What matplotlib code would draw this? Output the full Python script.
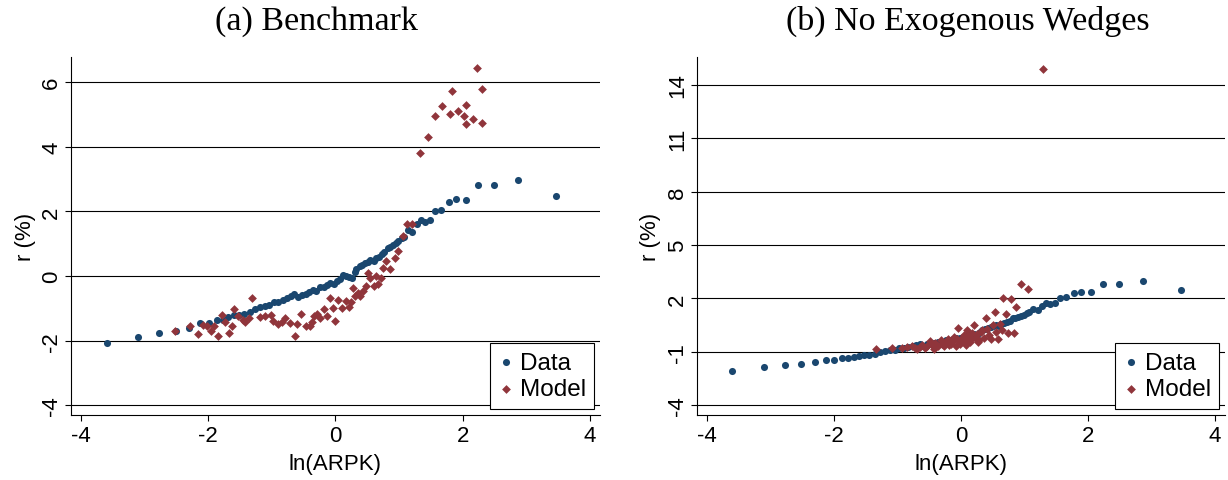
"""Return-on-capital profiles across ln(ARPK): data against model."""

import matplotlib.pyplot as plt

plt.switch_backend("Agg")
plt.rcParams["axes.unicode_minus"] = False

NAVY = "#1a476f"
MAROON = "#90353b"
SANS = ["Liberation Sans", "DejaVu Sans"]
SERIF = ["Liberation Serif", "DejaVu Serif"]

# observed bins: ln(ARPK) and r (%)
data_x = [
    -3.60, -3.10, -2.77, -2.51, -2.30, -2.13, -1.99, -1.87, -1.77, -1.69,
    -1.60, -1.52, -1.44, -1.35, -1.27, -1.19, -1.11, -1.04, -0.97, -0.90,
    -0.83, -0.76, -0.70, -0.65, -0.59, -0.53, -0.47, -0.42, -0.36, -0.30,
    -0.24, -0.18, -0.13, -0.08, -0.02, 0.03, 0.07, 0.12, 0.17, 0.21,
    0.26, 0.30, 0.33, 0.38, 0.42, 0.47, 0.51, 0.55, 0.60, 0.64,
    0.68, 0.73, 0.77, 0.82, 0.86, 0.90, 0.95, 0.99, 1.04, 1.08,
    1.14, 1.21, 1.28, 1.34, 1.41, 1.49, 1.56, 1.66, 1.78, 1.89,
    2.05, 2.24, 2.49, 2.87, 3.47,
]
data_y = [
    -2.08, -1.88, -1.76, -1.70, -1.60, -1.46, -1.44, -1.36, -1.35, -1.27,
    -1.22, -1.20, -1.16, -1.10, -1.03, -0.97, -0.92, -0.88, -0.80, -0.79,
    -0.74, -0.69, -0.62, -0.55, -0.66, -0.58, -0.55, -0.50, -0.43, -0.47,
    -0.34, -0.33, -0.27, -0.21, -0.24, -0.15, -0.10, 0.02, 0.01, -0.02,
    -0.06, 0.12, 0.22, 0.30, 0.34, 0.40, 0.45, 0.51, 0.47, 0.55,
    0.59, 0.67, 0.75, 0.88, 0.90, 0.95, 1.02, 1.08, 1.17, 1.22,
    1.43, 1.35, 1.60, 1.73, 1.66, 1.75, 2.02, 2.05, 2.28, 2.38,
    2.34, 2.82, 2.81, 2.97, 2.47,
]

# benchmark model
bench_x = [
    -2.53, -2.29, -2.17, -2.09, -2.02, -1.95, -1.91, -1.84, -1.78, -1.73,
    -1.67, -1.63, -1.59, -1.53, -1.46, -1.42, -1.36, -1.32, -1.19, -1.11,
    -1.02, -0.98, -0.91, -0.84, -0.79, -0.71, -0.63, -0.60, -0.54, -0.47,
    -0.40, -0.37, -0.34, -0.29, -0.24, -0.18, -0.13, -0.08, -0.04, 0.00,
    0.04, 0.10, 0.16, 0.21, 0.24, 0.28, 0.31, 0.35, 0.39, 0.43,
    0.48, 0.51, 0.55, 0.60, 0.63, 0.67, 0.72, 0.75, 0.80, 0.86,
    0.93, 0.99, 1.06, 1.12, 1.21, 1.33, 1.45, 1.57, 1.68, 1.80,
    1.83, 1.92, 2.02, 2.06, 2.06, 2.16, 2.22, 2.30, 2.30,
]
bench_y = [
    -1.70, -1.54, -1.78, -1.52, -1.54, -1.70, -1.54, -1.85, -1.19, -1.41,
    -1.76, -1.54, -1.02, -1.25, -1.35, -1.41, -1.31, -0.69, -1.27, -1.23,
    -1.21, -1.39, -1.49, -1.43, -1.31, -1.45, -1.85, -1.49, -1.16, -1.56,
    -1.54, -1.41, -1.23, -1.18, -1.29, -1.02, -1.25, -0.69, -1.00, -1.39,
    -0.75, -0.98, -0.77, -0.96, -0.81, -0.38, -0.61, -0.53, -0.63, -0.45,
    -0.32, 0.11, -0.07, -0.30, -0.01, -0.26, -0.07, 0.24, 0.48, 0.22,
    0.55, 0.77, 1.23, 1.60, 1.62, 3.82, 4.30, 4.96, 5.25, 5.01,
    5.72, 5.12, 4.94, 5.29, 4.70, 4.86, 6.45, 5.80, 4.73,
]

# model without exogenous wedges
nowedge_x = [
    -1.33, -1.08, -0.93, -0.85, -0.77, -0.72, -0.69, -0.64, -0.61, -0.57,
    -0.53, -0.48, -0.45, -0.43, -0.40, -0.36, -0.32, -0.29, -0.27, -0.23,
    -0.21, -0.18, -0.16, -0.13, -0.11, -0.08, -0.06, -0.04, -0.02, 0.00,
    0.02, 0.05, 0.07, 0.08, 0.10, 0.12, 0.14, 0.16, 0.18, 0.21,
    0.23, 0.25, 0.27, 0.29, 0.31, 0.33, 0.36, 0.39, 0.41, 0.44,
    0.47, 0.50, 0.54, 0.56, 0.58, 0.62, 0.65, 0.67, 0.71, 0.75,
    0.79, 0.83, 0.87, 0.95, 1.06, 1.30,
]
nowedge_y = [
    -0.87, -0.79, -0.79, -0.75, -0.68, -0.80, -0.87, -0.72, -0.61, -0.78,
    -0.68, -0.42, -0.62, -0.83, -0.49, -0.70, -0.36, -0.55, -0.68, -0.45,
    -0.27, -0.62, -0.55, -0.40, -0.17, -0.70, -0.30, 0.33, -0.55, -0.45,
    -0.20, -0.08, -0.35, -0.60, 0.20, -0.10, -0.45, -0.27, 0.05, 0.48,
    -0.20, 0.01, -0.45, -0.36, 0.10, 0.20, -0.25, 0.89, 0.30, -0.08,
    -0.30, 0.48, 1.23, 0.10, -0.27, 0.55, 0.20, 2.02, 1.14, 0.05,
    1.94, 0.07, 1.51, 2.82, 2.54, 14.88,
]

x_ticks = [-4, -2, 0, 2, 4]
bench_ticks = [-4, -2, 0, 2, 4, 6]
nowedge_ticks = [-4, -1, 2, 5, 8, 11, 14]


def draw_panel(ax, model_x, model_y, yticks, ylim):
    ax.scatter(data_x, data_y, s=26, color=NAVY, linewidths=0,
               label="Data", zorder=3)
    ax.scatter(model_x, model_y, s=20, marker="D", color=MAROON,
               linewidths=0, label="Model", zorder=4)

    ax.set_xlim(-4.16, 4.16)
    ax.set_ylim(*ylim)
    ax.set_xticks(x_ticks)
    ax.set_yticks(yticks)
    ax.set_axisbelow(True)
    ax.yaxis.grid(True, color="black", linewidth=0.8)

    for side in ("top", "right"):
        ax.spines[side].set_visible(False)
    for side in ("left", "bottom"):
        ax.spines[side].set_linewidth(0.8)

    ax.tick_params(length=4.3, width=0.8, labelsize=16)
    ax.tick_params(axis="y", labelrotation=90, pad=2)
    ax.tick_params(axis="x", pad=3)
    for label in ax.get_xticklabels() + ax.get_yticklabels():
        label.set_family(SANS)
    plt.setp(ax.get_yticklabels(), va="center")

    ax.set_xlabel("ln(ARPK)", family=SANS, fontsize=16, labelpad=5)
    ax.set_ylabel("r (%)", family=SANS, fontsize=16, labelpad=4)

    legend = ax.legend(
        loc="lower right", bbox_to_anchor=(0.989, 0.017), borderaxespad=0,
        frameon=True, fancybox=False, framealpha=1, edgecolor="black",
        prop={"family": SANS, "size": 17.5}, handletextpad=0.25,
        handlelength=0.6, borderpad=0.35, labelspacing=0.2,
    )
    legend.get_frame().set_linewidth(0.8)


def main():
    fig = plt.figure(figsize=(12.28, 4.81), dpi=100)
    ax_a = fig.add_axes([0.0578, 0.1351, 0.4308, 0.7437])
    ax_b = fig.add_axes([0.5673, 0.1351, 0.4303, 0.7437])

    draw_panel(ax_a, bench_x, bench_y, bench_ticks, (-4.30, 6.77))
    draw_panel(ax_b, nowedge_x, nowedge_y, nowedge_ticks, (-4.55, 15.54))

    fig.text(316 / 1228, 1 - 30 / 481, "(a) Benchmark", family=SERIF,
             fontsize=24.5, ha="center", va="baseline")
    fig.text(968 / 1228, 1 - 30 / 481, "(b) No Exogenous Wedges",
             family=SERIF, fontsize=24.5, ha="center", va="baseline")

    fig.savefig("out.png", dpi=100)
    plt.close(fig)


if __name__ == "__main__":
    main()
